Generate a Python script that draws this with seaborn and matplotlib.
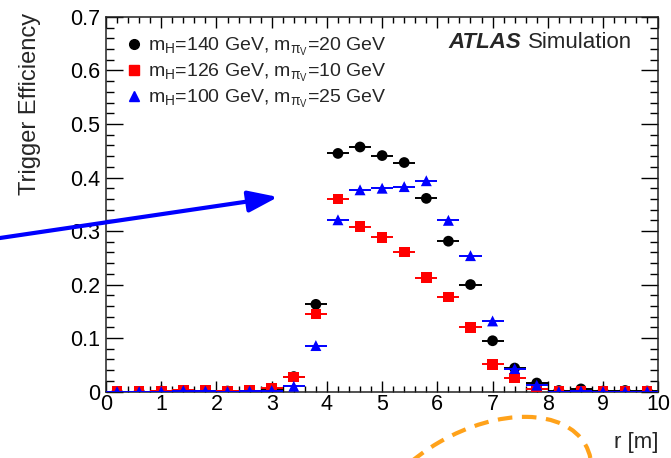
import numpy as np
import pandas as pd
import matplotlib
matplotlib.use("Agg")
import matplotlib.pyplot as plt
import seaborn as sns
from matplotlib.lines import Line2D
from matplotlib.patches import FancyArrowPatch, Ellipse
from matplotlib.ticker import MultipleLocator, FuncFormatter

# bin centres of r [m], bin width 0.4 m
r_centres = [0.2, 0.6, 1.0, 1.4, 1.8, 2.2, 2.6, 3.0, 3.4, 3.8, 4.2, 4.6, 5.0,
             5.4, 5.8, 6.2, 6.6, 7.0, 7.4, 7.8, 8.2, 8.6, 9.0, 9.4, 9.8]
r_halfwidth = 0.2

eff_140_20 = [0.000, 0.000, 0.001, 0.002, 0.002, 0.001, 0.002, 0.005, 0.028,
              0.163, 0.445, 0.457, 0.441, 0.428, 0.361, 0.281, 0.200, 0.095,
              0.044, 0.016, 0.002, 0.005, 0.001, 0.002, 0.001]
eff_126_10 = [0.000, 0.000, 0.001, 0.003, 0.002, 0.001, 0.002, 0.007, 0.027,
              0.145, 0.360, 0.308, 0.288, 0.261, 0.213, 0.177, 0.120, 0.051,
              0.025, 0.005, 0.000, 0.001, 0.000, 0.000, 0.000]
eff_100_25 = [0.000, 0.000, 0.000, 0.002, 0.001, 0.000, 0.001, 0.002, 0.010,
              0.086, 0.321, 0.377, 0.380, 0.383, 0.394, 0.320, 0.254, 0.132,
              0.043, 0.012, 0.000, 0.001, 0.000, 0.000, 0.000]

labels = [r"m$_\mathregular{H}$=140 GeV, m$_{\pi_\mathregular{V}}$=20 GeV",
          r"m$_\mathregular{H}$=126 GeV, m$_{\pi_\mathregular{V}}$=10 GeV",
          r"m$_\mathregular{H}$=100 GeV, m$_{\pi_\mathregular{V}}$=25 GeV"]
colors = ["black", "#ff0000", "#0000ff"]
markers = ["o", "s", "^"]
sizes = [60, 58, 62]

sns.set_theme(style="ticks")
plt.rcParams["font.family"] = ["Liberation Sans", "DejaVu Sans"]
plt.rcParams["mathtext.fontset"] = "custom"
plt.rcParams["mathtext.rm"] = "Liberation Sans"
plt.rcParams["mathtext.it"] = "Liberation Sans:italic"
plt.rcParams["mathtext.default"] = "regular"

df = pd.DataFrame({
    "r": r_centres * 3,
    "eff": eff_140_20 + eff_126_10 + eff_100_25,
    "sample": [labels[0]] * 25 + [labels[1]] * 25 + [labels[2]] * 25,
})

fig = plt.figure(figsize=(6.71, 4.58), dpi=100)
ax = fig.add_axes([0.158, 0.145, 0.823, 0.818])

for i, lab in enumerate(labels):
    sub = df[df["sample"] == lab]
    ax.errorbar(sub["r"], sub["eff"], xerr=r_halfwidth, fmt="none",
                ecolor=colors[i], elinewidth=1.4, capsize=0, zorder=2 + 2 * i)
    sns.scatterplot(data=sub, x="r", y="eff", color=colors[i], marker=markers[i],
                    s=sizes[i], edgecolor="none", linewidth=0, ax=ax,
                    zorder=3 + 2 * i, legend=False)

ax.set_xlim(0, 10)
ax.set_ylim(0, 0.7)
ax.xaxis.set_major_locator(MultipleLocator(1))
ax.xaxis.set_minor_locator(MultipleLocator(0.2))
ax.yaxis.set_major_locator(MultipleLocator(0.1))
ax.yaxis.set_minor_locator(MultipleLocator(0.02))
ax.yaxis.set_major_formatter(FuncFormatter(lambda v, p: "%g" % round(v, 3)))
ax.tick_params(which="both", direction="in", top=True, right=True,
               labelsize=15.5, colors="black", width=1.0)
ax.tick_params(axis="x", which="major", length=8, pad=2)
ax.tick_params(axis="x", which="minor", length=4)
ax.tick_params(axis="y", which="major", length=12, pad=4)
ax.tick_params(axis="y", which="minor", length=6)
for sp in ax.spines.values():
    sp.set_color("#222222")
    sp.set_linewidth(1.1)

ax.set_xlabel("r [m]", fontsize=16, loc="right")
ax.xaxis.set_label_coords(1.0, -0.108)
ax.set_ylabel("Trigger Efficiency", fontsize=17, loc="top")
ax.yaxis.set_label_coords(-0.118, 1.01)

handles = [Line2D([], [], linestyle="none", marker=markers[i], color=colors[i],
                  markersize=7) for i in range(3)]
ax.legend(handles, labels, loc="upper left", bbox_to_anchor=(0.012, 0.985),
          frameon=False, fontsize=14, handlelength=0.8, handletextpad=0.3,
          labelspacing=0.2, borderaxespad=0.3)

ax.text(0.62, 0.931, "ATLAS", transform=ax.transAxes, fontsize=16,
        fontweight="bold", fontstyle="italic", va="center", ha="left")
ax.text(0.953, 0.931, "Simulation", transform=ax.transAxes, fontsize=16,
        va="center", ha="right")

# annotations drawn over the figure
arrow = FancyArrowPatch((0.0, 2.20), (2.78, 2.61), transform=fig.dpi_scale_trans,
                        arrowstyle="-|>,head_length=1.8,head_width=0.65",
                        mutation_scale=10, color="#0000ff", lw=3,
                        shrinkA=0, shrinkB=0, clip_on=False)
fig.add_artist(arrow)
arc = Ellipse((4.77, -0.49), 2.5, 1.5, angle=30, transform=fig.dpi_scale_trans,
              fill=False, edgecolor="#ffa21a", lw=3, linestyle=(0, (3.5, 2.3)),
              clip_on=False)
fig.add_artist(arc)

fig.savefig("out.png", dpi=100)
